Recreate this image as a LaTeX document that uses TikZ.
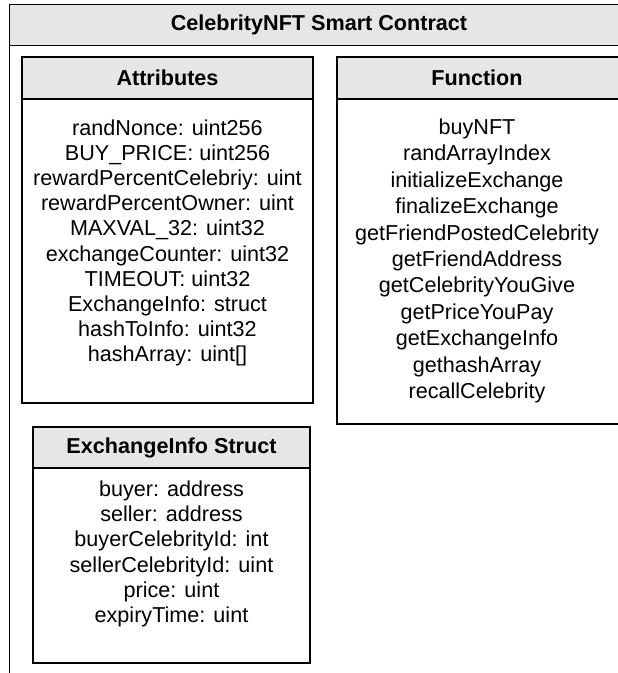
\documentclass[tikz,border=0pt]{standalone}
\usepackage{fontspec}
\setmainfont{Liberation Sans}
\definecolor{headfill}{HTML}{E6E6E6}
\tikzset{
  frame/.style={draw=black, line width=1.8pt, fill=white},
  head/.style={draw=black, line width=1.8pt, fill=headfill},
  title/.style={font=\fontsize{21.6}{25}\selectfont\bfseries, inner sep=0pt},
  body/.style={font=\fontsize{21.6}{25.2}\selectfont, align=center, inner sep=0pt},
}
\begin{document}
\begin{tikzpicture}[x=1pt,y=-1pt]
\useasboundingbox (0,0) rectangle (618,673);
\clip (0,0) rectangle (618,673);

% contract container
\draw[frame] (9.5,4.5) rectangle (630,690);
\draw[head] (9.5,4.5) rectangle (630,45.5);
\node[title] (contract) at (319,25) {CelebrityNFT Smart Contract};

% state variables
\draw[frame] (22,57) rectangle (313,403);
\draw[head] (22,57) rectangle (313,99);
\node[title] (attrhead) at (167.5,78) {Attributes};
\node[body] (attrs) at (167.5,243) {randNonce: uint256\\
BUY\_PRICE: uint256\\
rewardPercentCelebriy: uint\\
rewardPercentOwner: uint\\
MAXVAL\_32: uint32\\
exchangeCounter: uint32\\
TIMEOUT: uint32\\
ExchangeInfo: struct\\
hashToInfo: uint32\\
hashArray: uint[]};

% functions
\draw[frame] (337,57) rectangle (620,424);
\draw[head] (337,57) rectangle (620,99);
\node[title] (funchead) at (477,78) {Function};
\node[body, font=\fontsize{21.6}{26.4}\selectfont] (funcs) at (477,261) {buyNFT\\
randArrayIndex\\
initializeExchange\\
finalizeExchange\\
getFriendPostedCelebrity\\
getFriendAddress\\
getCelebrityYouGive\\
getPriceYouPay\\
getExchangeInfo\\
gethashArray\\
recallCelebrity};

% exchange struct
\draw[frame] (33,427) rectangle (310,663);
\draw[head] (33,427) rectangle (310,468);
\node[title] (structhead) at (171.5,447.5) {ExchangeInfo Struct};
\node[body] (fields) at (171.5,554) {buyer: address\\
seller: address\\
buyerCelebrityId: int\\
sellerCelebrityId: uint\\
price: uint\\
expiryTime: uint};
\end{tikzpicture}
\end{document}
